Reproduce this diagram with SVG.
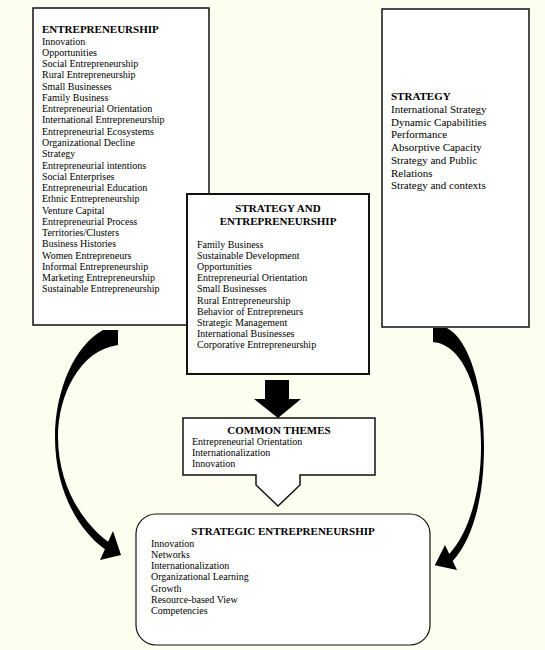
<svg xmlns="http://www.w3.org/2000/svg" width="545" height="650" viewBox="0 0 545 650">
<style>
  .box { fill: #ffffff; stroke: #111111; stroke-width: 1.5; }
  .t { font-family: "Liberation Serif", "Times New Roman", serif; font-size: 10px; fill: #000000; }
  .t11 { font-family: "Liberation Serif", "Times New Roman", serif; font-size: 11px; fill: #000000; }
  .h { font-family: "Liberation Serif", "Times New Roman", serif; font-size: 11px; font-weight: bold; fill: #000000; }
  .arrow { fill: #000000; stroke: none; }
</style>
<rect x="0" y="0" width="545" height="650" fill="#fefef0"/>

<g id="entrepreneurship">
  <rect class="box" x="33" y="8" width="176" height="317"/>
  <text class="h" x="42" y="33">ENTREPRENEURSHIP</text>
  <text class="t" x="42" y="44.5">Innovation</text>
  <text class="t" x="42" y="55.8">Opportunities</text>
  <text class="t" x="42" y="67">Social Entrepreneurship</text>
  <text class="t" x="42" y="78.3">Rural Entrepreneurship</text>
  <text class="t" x="42" y="89.6">Small Businesses</text>
  <text class="t" x="42" y="100.9">Family Business</text>
  <text class="t" x="42" y="112.1">Entrepreneurial Orientation</text>
  <text class="t" x="42" y="123.4">International Entrepreneurship</text>
  <text class="t" x="42" y="134.7">Entrepreneurial Ecosystems</text>
  <text class="t" x="42" y="145.9">Organizational Decline</text>
  <text class="t" x="42" y="157.2">Strategy</text>
  <text class="t" x="42" y="168.5">Entrepreneurial intentions</text>
  <text class="t" x="42" y="179.7">Social Enterprises</text>
  <text class="t" x="42" y="191">Entrepreneurial Education</text>
  <text class="t" x="42" y="202.3">Ethnic Entrepreneurship</text>
  <text class="t" x="42" y="213.6">Venture Capital</text>
  <text class="t" x="42" y="224.8">Entrepreneurial Process</text>
  <text class="t" x="42" y="236.1">Territories/Clusters</text>
  <text class="t" x="42" y="247.4">Business Histories</text>
  <text class="t" x="42" y="258.6">Women Entrepreneurs</text>
  <text class="t" x="42" y="269.9">Informal Entrepreneurship</text>
  <text class="t" x="42" y="281.2">Marketing Entrepreneurship</text>
  <text class="t" x="42" y="292.4">Sustainable Entrepreneurship</text>
</g>

<g id="strategy">
  <rect class="box" x="382" y="9" width="147" height="318"/>
  <text class="h" x="391" y="100">STRATEGY</text>
  <text class="t11" x="391" y="113">International Strategy</text>
  <text class="t11" x="391" y="125.7">Dynamic Capabilities</text>
  <text class="t11" x="391" y="138.4">Performance</text>
  <text class="t11" x="391" y="151.1">Absorptive Capacity</text>
  <text class="t11" x="391" y="163.8">Strategy and Public</text>
  <text class="t11" x="391" y="176.5">Relations</text>
  <text class="t11" x="391" y="189.2">Strategy and contexts</text>
</g>

<g id="strategy-and-entrepreneurship">
  <rect class="box" x="187" y="194" width="182" height="180" style="stroke-width:2"/>
  <text class="h" x="278" y="212" text-anchor="middle">STRATEGY AND</text>
  <text class="h" x="278" y="225" text-anchor="middle">ENTREPRENEURSHIP</text>
  <text class="t" x="197" y="247.5">Family Business</text>
  <text class="t" x="197" y="258.7">Sustainable Development</text>
  <text class="t" x="197" y="269.9">Opportunities</text>
  <text class="t" x="197" y="281.1">Entrepreneurial Orientation</text>
  <text class="t" x="197" y="292.3">Small Businesses</text>
  <text class="t" x="197" y="303.5">Rural Entrepreneurship</text>
  <text class="t" x="197" y="314.7">Behavior of Entrepreneurs</text>
  <text class="t" x="197" y="325.9">Strategic Management</text>
  <text class="t" x="197" y="337.1">International Businesses</text>
  <text class="t" x="197" y="348.3">Corporative Entrepreneurship</text>
</g>

<g id="common-themes">
  <polygon class="box" points="183,418 375,418 375,475 300,475 300,485 278,506 256,485 256,475 183,475"/>
  <text class="h" x="279" y="434" text-anchor="middle">COMMON THEMES</text>
  <text class="t" x="192" y="444.5">Entrepreneurial Orientation</text>
  <text class="t" x="192" y="455.8">Internationalization</text>
  <text class="t" x="192" y="467">Innovation</text>
</g>

<g id="strategic-entrepreneurship">
  <rect class="box" x="136" y="514" width="294" height="131" rx="20" ry="20" style="stroke-width:1.2"/>
  <text class="h" x="283" y="535" text-anchor="middle">STRATEGIC ENTREPRENEURSHIP</text>
  <text class="t" x="151" y="546.5">Innovation</text>
  <text class="t" x="151" y="557.8">Networks</text>
  <text class="t" x="151" y="569.1">Internationalization</text>
  <text class="t" x="151" y="580.4">Organizational Learning</text>
  <text class="t" x="151" y="591.7">Growth</text>
  <text class="t" x="151" y="603">Resource-based View</text>
  <text class="t" x="151" y="614.3">Competencies</text>
</g>

<g id="connectors">
  <polygon class="arrow" points="265,380 289,380 289,399 301,399 278,418 254,399 265,399"/>
  <path class="arrow" d="M118,330 L103,330 C75,345 55,390 55,437 C55,490 78,530 104.9,549.2 L100,560 L121,555 L113,531 L108.1,541.8 C82,522 58,485 58,437 C58,395 80,350 118,345 Z"/>
  <path class="arrow" d="M433,328 L447,328 C470,340 484,390 484,447 C484,500 472,540 452.7,561.1 L457,570 L434.8,565.3 L445,545 L449.3,553.9 C467,535 481,495 481,447 C481,395 465,345 433,342 Z"/>
</g>
</svg>
